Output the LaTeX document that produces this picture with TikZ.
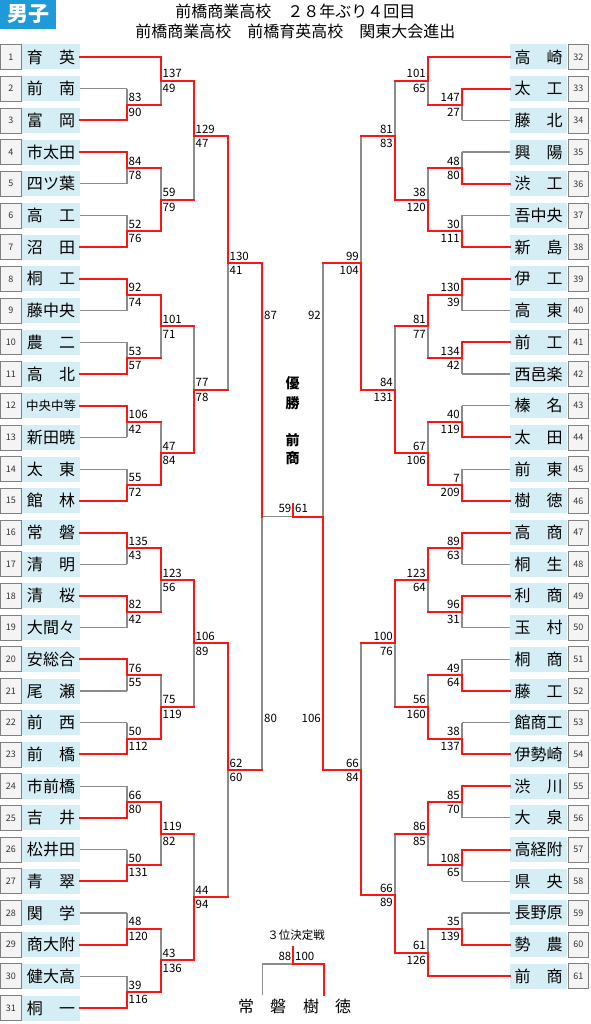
\documentclass[tikz,border=0pt]{standalone}
\usepackage{fontspec}
\setmainfont{Noto Sans CJK JP}
\newcommand\myfs[1]{\fontsize{#1}{#1}\selectfont}
\definecolor{hdr}{HTML}{1E9AD8}
\definecolor{cell}{HTML}{D5EDF4}
\definecolor{nbox}{HTML}{F4F4F4}
\definecolor{gline}{HTML}{8C8C8C}
\definecolor{rline}{HTML}{FF1414}
\pgfdeclarelayer{gr}
\pgfdeclarelayer{rd}
\pgfsetlayers{main,gr,rd}
\tikzset{
  gr/.style={draw=gline,line width=1.2pt},
  rd/.style={draw=rline,line width=2pt,line cap=rect},
  numbox/.style={draw=black!50,fill=nbox,line width=0.7pt,minimum width=20.5pt,minimum height=25pt,inner sep=0pt,font=\myfs{9},text=black!80},
  namebox/.style={fill=cell,minimum height=25pt,inner sep=0pt,font=\myfs{16}},
  sc/.style={inner sep=0pt,font=\myfs{11.5}},
}
% left match: x, ytop, ybot, yout, xnext, score top, score bottom, winner (t/b)
\newcommand\Lm[8]{%
  \begin{pgfonlayer}{gr}\draw[gr] (#1,#2)--(#1,#3);\end{pgfonlayer}%
  \begin{pgfonlayer}{rd}\ifx t#8\draw[rd] (#1,#2)--(#1,#4)--(#5,#4);\else\draw[rd] (#1,#3)--(#1,#4)--(#5,#4);\fi\end{pgfonlayer}%
  \node[sc,anchor=west] at (#1+1.5,#4-7) {#6};%
  \node[sc,anchor=west] at (#1+1.5,#4+7.5) {#7};%
}
\newcommand\Rm[8]{%
  \begin{pgfonlayer}{gr}\draw[gr] (#1,#2)--(#1,#3);\end{pgfonlayer}%
  \begin{pgfonlayer}{rd}\ifx t#8\draw[rd] (#1,#2)--(#1,#4)--(#5,#4);\else\draw[rd] (#1,#3)--(#1,#4)--(#5,#4);\fi\end{pgfonlayer}%
  \node[sc,anchor=east] at (#1-2,#4-7) {#6};%
  \node[sc,anchor=east] at (#1-2,#4+7.5) {#7};%
}
\begin{document}
\begin{tikzpicture}[x=1pt,y=-1pt]
\useasboundingbox (0,0) rectangle (590,1024);
% header
\node[fill=hdr,text=white,font=\myfs{21}\bfseries,minimum width=56pt,minimum height=29pt,inner sep=0pt] (hdr) at (28,14.5) {男子};
\node[font=\myfs{16},inner sep=0pt] (title1) at (295.3,11.7) {前橋商業高校　２８年ぶり４回目};
\node[font=\myfs{16},inner sep=0pt] (title2) at (295.3,31.7) {前橋商業高校　前橋育英高校　関東大会進出};
% left teams
\foreach \n/\t/\s/\e in {1/育　英/rd/161, 2/前　南/gr/127, 3/富　岡/rd/127, 4/市太田/rd/127, 5/四ツ葉/gr/127,
  6/高　工/gr/127, 7/沼　田/rd/127, 8/桐　工/rd/127, 9/藤中央/gr/127, 10/農　二/gr/127, 11/高　北/rd/127,
  12/{\myfs{12.5}中央中等}/rd/127, 13/新田暁/gr/127, 14/太　東/gr/127, 15/館　林/rd/127, 16/常　磐/rd/127,
  17/清　明/gr/127, 18/清　桜/rd/127, 19/大間々/gr/127, 20/安総合/rd/127, 21/尾　瀬/gr/127, 22/前　西/gr/127,
  23/前　橋/rd/127, 24/市前橋/gr/127, 25/吉　井/rd/127, 26/松井田/gr/127, 27/青　翠/rd/127, 28/関　学/gr/127,
  29/商大附/rd/127, 30/健大高/gr/127, 31/桐　一/rd/127}{
  \pgfmathsetmacro\yy{57+(\n-1)*31.7}
  \node[numbox] (n\n) at (10.75,\yy) {\n};
  \node[namebox,minimum width=58pt] (t\n) at (51,\yy) {\t};
  \begin{pgfonlayer}{\s}\draw[\s] (t\n.east) -- (\e,\yy);\end{pgfonlayer}
}
% right teams
\foreach \n/\t/\s/\e in {32/高　崎/rd/428, 33/太　工/rd/462, 34/藤　北/gr/462, 35/興　陽/gr/462, 36/渋　工/rd/462,
  37/吾中央/gr/462, 38/新　島/rd/462, 39/伊　工/rd/462, 40/高　東/gr/462, 41/前　工/rd/462, 42/西邑楽/gr/462,
  43/榛　名/gr/462, 44/太　田/rd/462, 45/前　東/gr/462, 46/樹　徳/rd/462, 47/高　商/rd/462, 48/桐　生/gr/462,
  49/利　商/rd/462, 50/玉　村/gr/462, 51/桐　商/gr/462, 52/藤　工/rd/462, 53/館商工/gr/462, 54/伊勢崎/rd/462,
  55/渋　川/rd/462, 56/大　泉/gr/462, 57/高経附/rd/462, 58/県　央/gr/462, 59/長野原/gr/462, 60/勢　農/rd/462,
  61/前　商/rd/428}{
  \pgfmathsetmacro\yy{57+(\n-32)*31.7}
  \node[numbox] (n\n) at (578.25,\yy) {\n};
  \node[namebox,minimum width=57pt] (t\n) at (538.5,\yy) {\t};
  \begin{pgfonlayer}{\s}\draw[\s] (t\n.west) -- (\e,\yy);\end{pgfonlayer}
}
% left round 1
\Lm{127}{88.7}{120.4}{104.55}{161}{83}{90}{b}
\Lm{127}{152.1}{183.8}{167.95}{161}{84}{78}{t}
\Lm{127}{215.5}{247.2}{231.35}{161}{52}{76}{b}
\Lm{127}{278.9}{310.6}{294.75}{161}{92}{74}{t}
\Lm{127}{342.3}{374.0}{358.15}{161}{53}{57}{b}
\Lm{127}{405.7}{437.4}{421.55}{161}{106}{42}{t}
\Lm{127}{469.1}{500.8}{484.95}{161}{55}{72}{b}
\Lm{127}{532.5}{564.2}{548.35}{161}{135}{43}{t}
\Lm{127}{595.9}{627.6}{611.75}{161}{82}{42}{t}
\Lm{127}{659.3}{691.0}{675.15}{161}{76}{55}{t}
\Lm{127}{722.7}{754.4}{738.55}{161}{50}{112}{b}
\Lm{127}{786.1}{817.8}{801.95}{161}{66}{80}{b}
\Lm{127}{849.5}{881.2}{865.35}{161}{50}{131}{b}
\Lm{127}{912.9}{944.6}{928.75}{161}{48}{120}{b}
\Lm{127}{976.3}{1008.0}{992.15}{161}{39}{116}{b}
% left round 2
\Lm{161}{57}{104.55}{80.8}{194}{137}{49}{t}
\Lm{161}{167.95}{231.35}{199.65}{194}{59}{79}{b}
\Lm{161}{294.75}{358.15}{326.45}{194}{101}{71}{t}
\Lm{161}{421.55}{484.95}{453.25}{194}{47}{84}{b}
\Lm{161}{548.35}{611.75}{580.05}{194}{123}{56}{t}
\Lm{161}{675.15}{738.55}{706.85}{194}{75}{119}{b}
\Lm{161}{801.95}{865.35}{833.65}{194}{119}{82}{t}
\Lm{161}{928.75}{992.15}{960.45}{194}{43}{136}{b}
% left round 3
\Lm{194}{80.8}{199.65}{136}{228}{129}{47}{t}
\Lm{194}{326.45}{453.25}{389.85}{228}{77}{78}{b}
\Lm{194}{580.05}{706.85}{643.45}{228}{106}{89}{t}
\Lm{194}{833.65}{960.45}{897.05}{228}{44}{94}{b}
% left round 4
\Lm{228}{136}{389.85}{262.9}{262}{130}{41}{t}
\Lm{228}{643.45}{897.05}{770.25}{262}{62}{60}{t}
% right round 1
\Rm{462}{88.7}{120.4}{104.55}{428}{147}{27}{t}
\Rm{462}{152.1}{183.8}{167.95}{428}{48}{80}{b}
\Rm{462}{215.5}{247.2}{231.35}{428}{30}{111}{b}
\Rm{462}{278.9}{310.6}{294.75}{428}{130}{39}{t}
\Rm{462}{342.3}{374.0}{358.15}{428}{134}{42}{t}
\Rm{462}{405.7}{437.4}{421.55}{428}{40}{119}{b}
\Rm{462}{469.1}{500.8}{484.95}{428}{7}{209}{b}
\Rm{462}{532.5}{564.2}{548.35}{428}{89}{63}{t}
\Rm{462}{595.9}{627.6}{611.75}{428}{96}{31}{t}
\Rm{462}{659.3}{691.0}{675.15}{428}{49}{64}{b}
\Rm{462}{722.7}{754.4}{738.55}{428}{38}{137}{b}
\Rm{462}{786.1}{817.8}{801.95}{428}{85}{70}{t}
\Rm{462}{849.5}{881.2}{865.35}{428}{108}{65}{t}
\Rm{462}{912.9}{944.6}{928.75}{428}{35}{139}{b}
% right round 2
\Rm{428}{57}{104.55}{80.8}{395}{101}{65}{t}
\Rm{428}{167.95}{231.35}{199.65}{395}{38}{120}{b}
\Rm{428}{294.75}{358.15}{326.45}{395}{81}{77}{t}
\Rm{428}{421.55}{484.95}{453.25}{395}{67}{106}{b}
\Rm{428}{548.35}{611.75}{580.05}{395}{123}{64}{t}
\Rm{428}{675.15}{738.55}{706.85}{395}{56}{160}{b}
\Rm{428}{801.95}{865.35}{833.65}{395}{86}{85}{t}
\Rm{428}{928.75}{976.3}{952.5}{395}{61}{126}{b}
% right round 3
\Rm{395}{80.8}{199.65}{136}{361}{81}{83}{b}
\Rm{395}{326.45}{453.25}{389.85}{361}{84}{131}{b}
\Rm{395}{580.05}{706.85}{643.45}{361}{100}{76}{t}
\Rm{395}{833.65}{952.5}{895}{361}{66}{89}{b}
% right round 4
\Rm{361}{136}{389.85}{262.9}{323}{99}{104}{b}
\Rm{361}{643.45}{895}{770.25}{323}{66}{84}{b}
% semifinals and final
\coordinate (fl) at (262,516.6);
\coordinate (fr) at (323,516.6);
\coordinate (fm) at (293,516.6);
\coordinate (ft) at (293,503.5);
\begin{pgfonlayer}{gr}
\draw[gr] (262,262.9) -- (262,770.25);
\draw[gr] (323,262.9) -- (323,770.25);
\draw[gr] (fl) -- (fm);
\end{pgfonlayer}
\begin{pgfonlayer}{rd}
\draw[rd] (262,262.9) -- (fl);
\draw[rd] (323,770.25) -- (fr) -- (fm) -- (ft);
\end{pgfonlayer}
\node[sc,anchor=west] (s87) at (264,315) {87};
\node[sc,anchor=west] (s80) at (264,718) {80};
\node[sc,anchor=east] (s92) at (321,315) {92};
\node[sc,anchor=east] (s106) at (321,718) {106};
\node[sc,anchor=east] (f59) at (291.5,508) {59};
\node[sc,anchor=west] (f61) at (295,508) {61};
% champion
\node[font=\myfs{14}\bfseries,inner sep=0pt] (w1) at (292.7,383) {優};
\node[font=\myfs{14}\bfseries,inner sep=0pt] (w2) at (292.7,402.7) {勝};
\node[font=\myfs{14}\bfseries,inner sep=0pt] (w3) at (292.7,440) {前};
\node[font=\myfs{14}\bfseries,inner sep=0pt] (w4) at (292.7,458) {商};
% third place
\node[font=\myfs{11.5},inner sep=0pt] (third) at (296,935) {３位決定戦};
\node[font=\myfs{16},inner sep=0pt] (p1) at (262,1006.7) {常　磐};
\node[font=\myfs{16},inner sep=0pt] (p2) at (327,1006.7) {樹　徳};
\coordinate (tl) at (262.7,995);
\coordinate (tr) at (324,995);
\coordinate (tm) at (293,964);
\begin{pgfonlayer}{gr}
\draw[gr] (tl) |- (tm);
\end{pgfonlayer}
\begin{pgfonlayer}{rd}
\draw[rd] (tm) -| (tr);
\draw[rd] (tm) -- (293,947);
\end{pgfonlayer}
\node[sc,anchor=east] (t88) at (291.5,956.5) {88};
\node[sc,anchor=west] (t100) at (295,956.5) {100};
\end{tikzpicture}
\end{document}
